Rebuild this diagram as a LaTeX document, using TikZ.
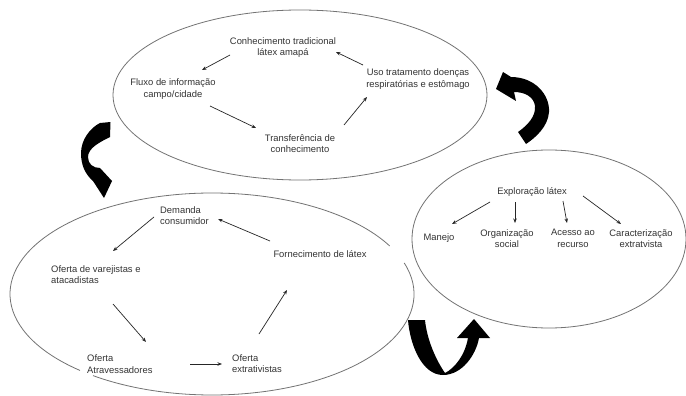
\documentclass[tikz,border=0pt]{standalone}
\usepackage{fontspec}
\setmainfont{Liberation Sans}
\usetikzlibrary{calc,arrows.meta}
\begin{document}
\begin{tikzpicture}[x=1pt,y=-1pt,
  txt/.style={inner sep=0pt,align=center,text=black!80,font=\fontsize{9.4}{11.5}\selectfont},
  txtl/.style={txt,align=left,anchor=west},
  arr/.style={line width=0.7pt,draw=black!85,-{Stealth[length=4.5pt,width=3.5pt]}},
  ell/.style={draw=black!55,line width=0.8pt},
  bigarrow/.style={fill=black,draw=none}]
\useasboundingbox (0,0) rectangle (686,396);
\fill[white] (0,0) rectangle (686,396);
% container ellipses
\draw[ell] (300,95) ellipse [x radius=187, y radius=85];
\draw[ell] (212,294) ++(-17.9:202 and 101) arc[start angle=-17.9, end angle=126.1, x radius=202, y radius=101];
\draw[ell] (212,294) ++(130.8:202 and 101) arc[start angle=130.8, end angle=331.6, x radius=202, y radius=101];
\draw[ell] (549,239) ellipse [x radius=137, y radius=89];
% top cycle
\node[txt] (conh) at (283,47.5) {Conhecimento tradicional\\látex amapá};
\node[txt] (fluxo) at (173,89) {Fluxo de informação\\campo/cidade};
\node[txt] (uso) at (418,79) {Uso tratamento doenças\\respiratórias e estômago};
\node[txt] (transf) at (300,143.5) {Transferência de\\conhecimento};
\draw[arr] ($(conh)+(-53,7.5)$) -- ($(fluxo)+(29,-19)$);
\draw[arr] ($(uso)+(-55,-14)$) -- ($(conh)+(53,4.5)$);
\draw[arr] ($(fluxo)+(37,17)$) -- ($(transf)+(-44,-15.5)$);
\draw[arr] ($(transf)+(44,-18.5)$) -- ($(uso)+(-51,18)$);
% bottom cycle
\node[txtl] (dem) at (160,215.5) {Demanda\\consumidor};
\node[txtl] (vare) at (51,274.5) {Oferta de varejistas e\\atacadistas};
\node[txtl] (atrav) at (87,364) {Oferta\\Atravessadores};
\node[txtl] (extr) at (232,363.5) {Oferta\\extrativistas};
\node[txt] (forn) at (320,254) {Fornecimento de látex};
\draw[arr] ($(dem.west)+(-6,1.5)$) -- ($(vare.west)+(62,-23.5)$);
\draw[arr] ($(vare.west)+(62,29.5)$) -- ($(atrav.west)+(59,-22)$);
\draw[arr] ($(atrav.west)+(103,0)$) -- ($(extr.west)+(-10,0.5)$);
\draw[arr] ($(extr.west)+(27,-29.5)$) -- ($(forn)+(-33,36)$);
\draw[arr] ($(forn)+(-50,-13)$) -- ($(dem.west)+(58,3.5)$);
% right tree
\node[txt] (expl) at (532,192) {Exploração látex};
\node[txt] (manejo) at (439,238) {Manejo};
\node[txt] (org) at (507,238.5) {Organização\\social};
\node[txt] (acesso) at (573,238.5) {Acesso ao\\recurso};
\node[txt] (caract) at (641,238.5) {Caracterização\\extratvista};
\draw[arr] ($(expl)+(-42,10)$) -- ($(manejo)+(13,-14)$);
\draw[arr] ($(expl)+(-17,10)$) -- ($(org)+(8,-15.5)$);
\draw[arr] ($(expl)+(31,9)$) -- ($(acesso)+(-6,-15.5)$);
\draw[arr] ($(expl)+(51,4)$) -- ($(caract)+(-20,-14.5)$);
% big curved arrows
\fill[bigarrow] (100,123) -- (110.5,122) -- (110,137) .. controls (100,142) and (88,148) .. (88,157)
  .. controls (88,164) and (93,168) .. (100,168) -- (112,181) -- (104,198) -- (93,181)
  .. controls (85,174) and (81,165) .. (81,153) .. controls (81,140) and (90,128) .. (100,123) -- cycle;
\fill[bigarrow] (496,89) -- (503,72) -- (511,77) .. controls (535,77) and (550,95) .. (549,112)
  .. controls (548,127) and (535,138) .. (526,144) -- (518,132)
  .. controls (528,125) and (536,116) .. (535,106) .. controls (534,97) and (525,92) .. (514,92)
  -- (516,101) -- cycle;
\fill[bigarrow] (408,320) .. controls (410,345) and (422,375) .. (443,375)
  .. controls (462,375) and (476,355) .. (479,338) -- (490,338) -- (474,319) -- (457,338) -- (468,338)
  .. controls (465,355) and (455,368) .. (445,373) .. controls (436,360) and (427,340) .. (425,320) -- cycle;
\end{tikzpicture}
\end{document}
